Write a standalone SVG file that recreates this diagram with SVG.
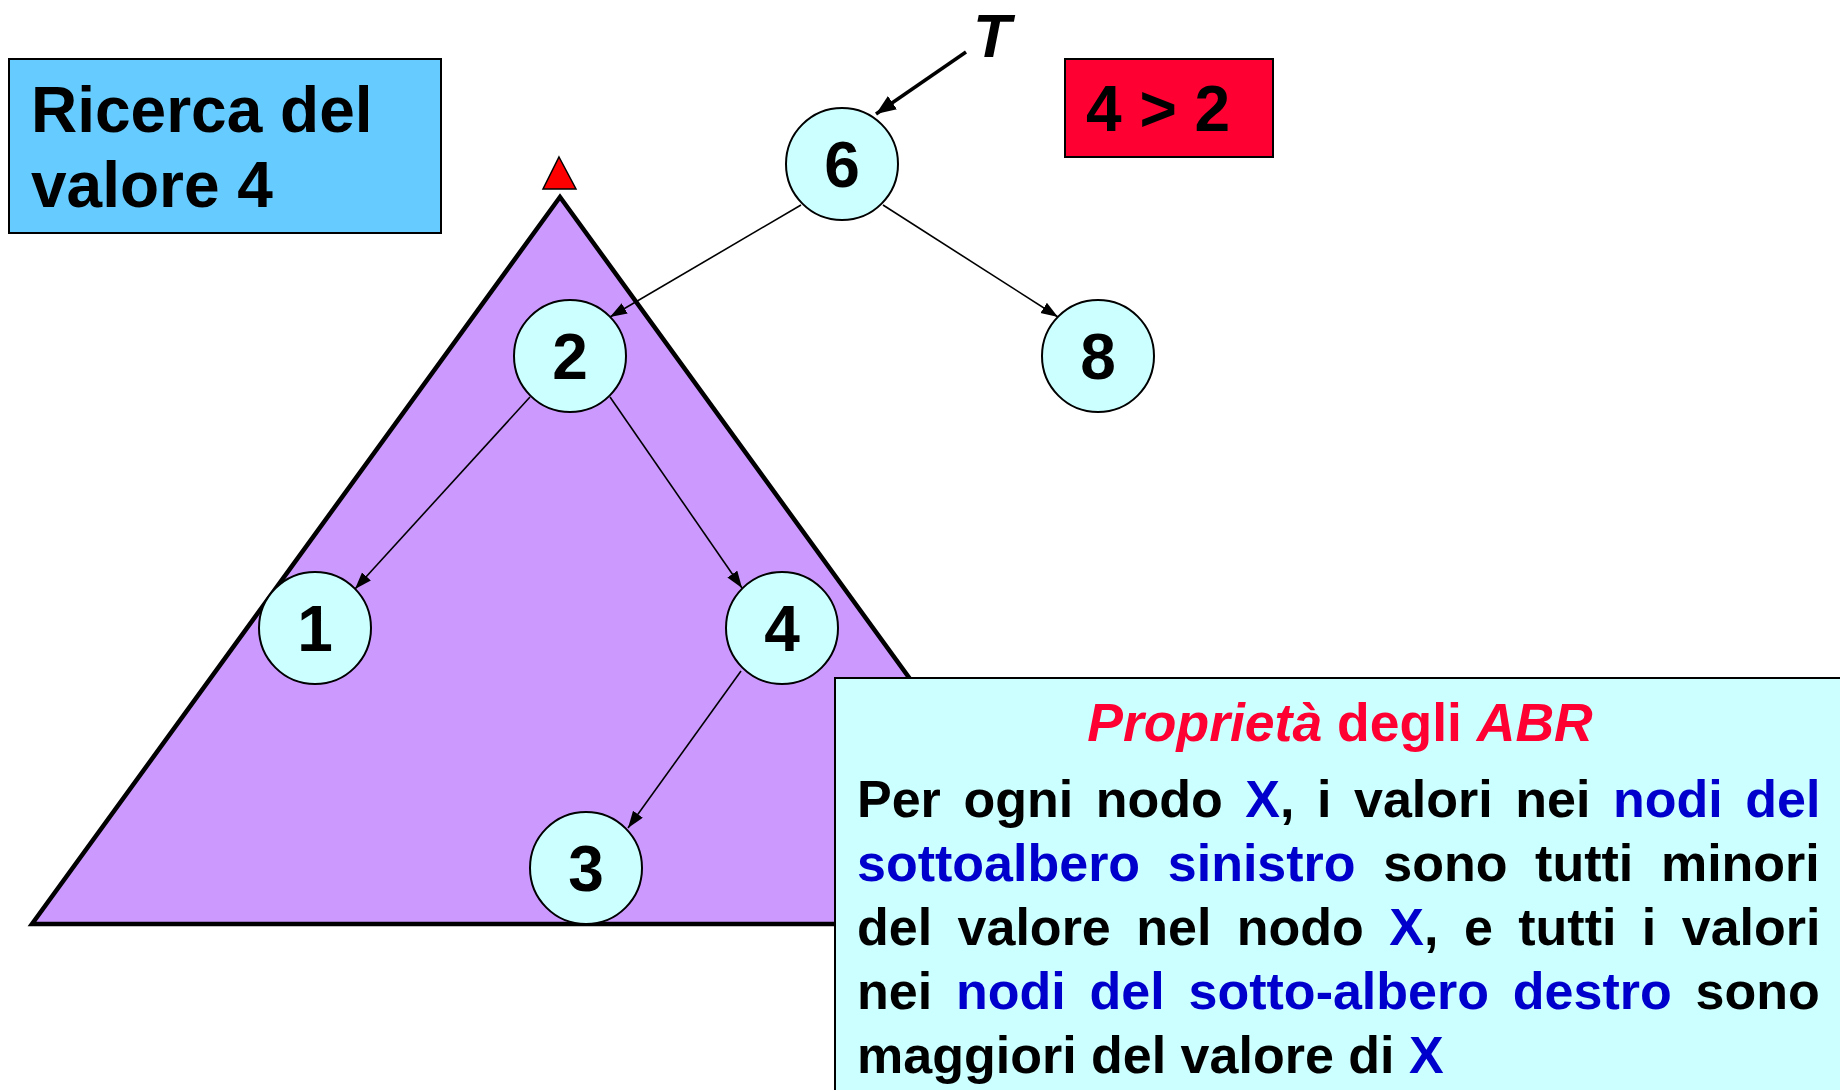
<svg xmlns="http://www.w3.org/2000/svg" width="1840" height="1090" viewBox="0 0 1840 1090">
<style>
text{font-family:"Liberation Sans",Arial,sans-serif;font-weight:bold;fill:#000}
.node circle{fill:#CCFFFF;stroke:#000;stroke-width:2}
.node text{font-size:64px;text-anchor:middle}
.edge{stroke:#000;stroke-width:1.6;fill:none;marker-end:url(#arr)}
.body{font-size:52px}
.blue{fill:#0000CC}
.red{fill:#FF0033}
</style>
<defs>
<marker id="arr" markerUnits="userSpaceOnUse" markerWidth="18" markerHeight="14" refX="17" refY="6" orient="auto">
<path d="M0,0 L17,6 L0,12 z" fill="#000"/>
</marker>
<marker id="arrT" markerUnits="userSpaceOnUse" markerWidth="22" markerHeight="18" refX="20" refY="8" orient="auto">
<path d="M0,0 L20,8 L0,16 z" fill="#000"/>
</marker>
</defs>
<rect width="1840" height="1090" fill="#fff"/>
<g id="subtree">
<polygon points="560,197 1088,924 32,924" fill="#CC99FF" stroke="#000" stroke-width="4.5" stroke-linejoin="miter"/>
</g>
<g id="marker-triangle">
<polygon points="559,157 576,189 543,189" fill="#FF0000" stroke="#000" stroke-width="1.5"/>
</g>
<g id="title-box">
<rect x="9" y="59" width="432" height="174" fill="#66CCFF" stroke="#000" stroke-width="2"/>
<text x="31" y="132" font-size="64">Ricerca del</text>
<text x="31" y="207" font-size="64">valore 4</text>
</g>
<g id="compare-box">
<rect x="1065" y="59" width="208" height="98" fill="#FF0033" stroke="#000" stroke-width="2"/>
<text x="1086" y="131" font-size="64">4 &gt; 2</text>
</g>
<g id="T-label">
<text x="973" y="57" font-size="62" font-style="italic">T</text>
</g>
<g id="connectors">
<line x1="966" y1="52" x2="876" y2="114" stroke="#000" stroke-width="3.5" marker-end="url(#arrT)"/>
<line class="edge" x1="801" y1="205" x2="610" y2="317"/>
<line class="edge" x1="883" y1="205" x2="1058" y2="317"/>
<line class="edge" x1="530" y1="397" x2="355" y2="589"/>
<line class="edge" x1="610" y1="397" x2="742" y2="588"/>
<line class="edge" x1="741" y1="671" x2="628" y2="828"/>
</g>
<g id="node-6" class="node"><circle cx="842" cy="164" r="56"/><text x="842" y="187">6</text></g>
<g id="node-2" class="node"><circle cx="570" cy="356" r="56"/><text x="570" y="379">2</text></g>
<g id="node-8" class="node"><circle cx="1098" cy="356" r="56"/><text x="1098" y="379">8</text></g>
<g id="node-1" class="node"><circle cx="315" cy="628" r="56"/><text x="315" y="651">1</text></g>
<g id="node-4" class="node"><circle cx="782" cy="628" r="56"/><text x="782" y="651">4</text></g>
<g id="node-3" class="node"><circle cx="586" cy="868" r="56"/><text x="586" y="891">3</text></g>
<g id="property-box">
<rect x="835" y="678" width="1020" height="430" fill="#CCFFFF" stroke="#000" stroke-width="2"/>
<text x="1340" y="741" class="red" font-size="53.5" text-anchor="middle"><tspan font-style="italic">Proprietà</tspan> degli <tspan font-style="italic">ABR</tspan></text>
<text x="857" y="817" class="body" word-spacing="8.1">Per ogni nodo <tspan class="blue">X</tspan>, i valori nei <tspan class="blue">nodi del</tspan></text>
<text x="857" y="881" class="body" word-spacing="13.2"><tspan class="blue">sottoalbero sinistro</tspan> sono tutti minori</text>
<text x="857" y="945" class="body" word-spacing="11">del valore nel nodo <tspan class="blue">X</tspan>, e tutti i valori</text>
<text x="857" y="1009" class="body" word-spacing="9.4">nei <tspan class="blue">nodi del sotto-albero destro</tspan> sono</text>
<text x="857" y="1073" class="body">maggiori del valore di <tspan class="blue">X</tspan></text>
</g>
</svg>
